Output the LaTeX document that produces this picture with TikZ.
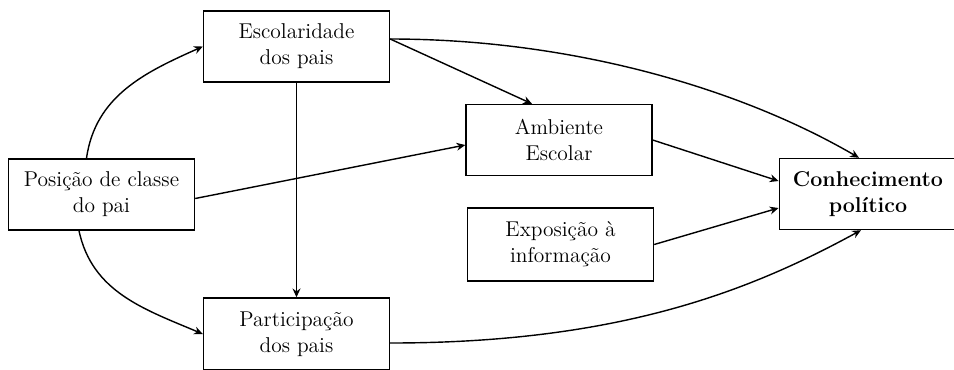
\documentclass[tikz,border=0pt]{standalone}
\usetikzlibrary{positioning, arrows.meta}
\tikzstyle{box} = [rectangle, minimum width=3.72cm, minimum height=1.42cm, inner sep=0pt, align=center, text centered, draw=black, line width=0.8pt]
\tikzstyle{arrow} = [line width=0.8pt, -{Stealth[length=5pt,width=4.5pt]}]
\tikzstyle{every node}=[font=\fontsize{12.2}{14.7}\selectfont]

\begin{document}
\begin{tikzpicture}
  \useasboundingbox (0,0) rectangle (19.08,-7.38);
  % caixas
  \node (escol) [box] at (5.93,-0.93) {Escolaridade\\dos pais};
  \node (posicao) [box] at (2.03,-3.89) {Posição de classe\\do pai};
  \node (amb) [box] at (11.18,-2.80) {Ambiente\\Escolar};
  \node (expo) [box, minimum height=1.46cm] at (11.21,-4.89) {Exposição à\\informação};
  \node (conhec) [box, minimum width=3.55cm] at (17.36,-3.88) {\textbf{Conhecimento}\\\textbf{político}};
  \node (partic) [box, minimum height=1.44cm, below of=escol, node distance=5.75cm] {Participação\\dos pais};

  % setas
  \draw [arrow]([xshift=-0.3cm]posicao.north) to[out=82, in=204] (escol.west);
  \draw [arrow]([xshift=-0.45cm]posicao.south) to[out=-78, in=157] (partic.west);
  \draw [arrow]([yshift=-0.08cm]posicao.east) -- ([yshift=-0.1cm]amb.west);
  \draw [arrow](escol) -- (partic);
  \draw [arrow]([yshift=0.15cm]escol.east) -- ([xshift=-0.54cm]amb.north);
  \draw [arrow]([yshift=0.15cm]escol.east) .. controls +(3.6,0) and +(-2.4,1.4) .. ([xshift=-0.18cm]conhec.north);
  \draw [arrow](amb.east) -- ([yshift=0.26cm]conhec.west);
  \draw [arrow](expo.east) -- ([yshift=-0.28cm]conhec.west);
  \draw [arrow]([yshift=-0.18cm]partic.east) .. controls +(4.6,0) and +(-2.2,-1.2) .. ([xshift=-0.14cm]conhec.south);
\end{tikzpicture}
\end{document}
